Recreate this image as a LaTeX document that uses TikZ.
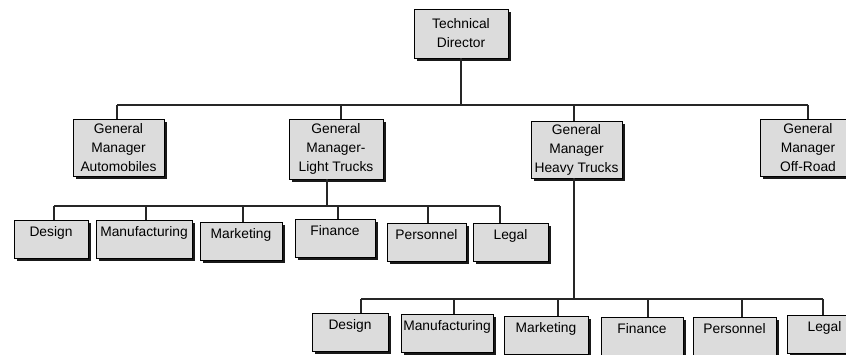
\documentclass[tikz,border=0pt]{standalone}
\usepackage{fontspec}
\setmainfont{Liberation Sans}
\usetikzlibrary{shadows}
\definecolor{boxgray}{HTML}{DCDCDC}
\begin{document}
\begin{tikzpicture}[x=1pt,y=-1pt,
  box/.style={draw=black, line width=0.9pt, fill=boxgray, inner sep=0pt,
    align=center, font=\fontsize{13.8}{19}\selectfont,
    general shadow={fill=black!90, shadow xshift=3pt, shadow yshift=-3pt}},
  gm/.style={box, minimum height=57pt},
  dept/.style={box, anchor=north, text height=16pt, text depth=22pt},
  conn/.style={line width=1.3pt, draw=black!85}]
\useasboundingbox (0,0) rectangle (846,354);
\fill[white] (0,0) rectangle (846,354);

% top level
\node[box, minimum width=94pt, minimum height=49pt] (td) at (461,33.5) {Technical\\Director};

% general managers
\node[gm, minimum width=91pt] (auto) at (118.5,147.5) {General\\Manager\\Automobiles};
\node[gm, minimum width=94pt, minimum height=60pt] (light) at (336,149) {General\\Manager-\\Light Trucks};
\node[gm, minimum width=91pt] (heavy) at (576.5,149.5) {General\\Manager\\Heavy Trucks};
\node[gm, minimum width=96pt] (off) at (808,147.5) {General\\Manager\\Off-Road};

% departments under light trucks
\node[dept, minimum width=74pt] (ld) at (51,220) {Design};
\node[dept, minimum width=96pt] (lm) at (144,220) {Manufacturing};
\node[dept, minimum width=82pt] (lk) at (241,222) {Marketing};
\node[dept, minimum width=80pt] (lf) at (335,219) {Finance};
\node[dept, minimum width=79pt] (lp) at (426.5,223) {Personnel};
\node[dept, minimum width=75pt] (ll) at (510.5,223) {Legal};

% departments under heavy trucks
\node[dept, minimum width=76pt] (hd) at (350,313) {Design};
\node[dept, minimum width=92pt] (hm) at (447,314) {Manufacturing};
\node[dept, minimum width=84pt] (hk) at (546,316) {Marketing};
\node[dept, minimum width=82pt] (hf) at (642,317) {Finance};
\node[dept, minimum width=83pt] (hp) at (734.5,317) {Personnel};
\node[dept, minimum width=75pt] (hl) at (824.5,315) {Legal};

% top bus
\coordinate (t1) at (117,105);
\coordinate (t2) at (341,105);
\coordinate (t3) at (574,105);
\coordinate (t4) at (808,105);
\draw[conn] (td.south) -- (td.south |- t1);
\draw[conn] (t1) -- (t4);
\draw[conn] (t1) -- (auto.north -| t1);
\draw[conn] (t2) -- (light.north -| t2);
\draw[conn] (t3) -- (heavy.north -| t3);
\draw[conn] (t4) -- (off.north -| t4);

% light trucks bus
\coordinate (l0) at (327,206);
\coordinate (l1) at (54,206);
\coordinate (l2) at (146,206);
\coordinate (l3) at (243,206);
\coordinate (l4) at (338,206);
\coordinate (l5) at (428,206);
\coordinate (l6) at (500,206);
\draw[conn] (light.south -| l0) -- (l0);
\draw[conn] (l1) -- (l6);
\draw[conn] (l1) -- (ld.north -| l1);
\draw[conn] (l2) -- (lm.north -| l2);
\draw[conn] (l3) -- (lk.north -| l3);
\draw[conn] (l4) -- (lf.north -| l4);
\draw[conn] (l5) -- (lp.north -| l5);
\draw[conn] (l6) -- (ll.north -| l6);

% heavy trucks bus
\coordinate (h0) at (574,299);
\coordinate (h1) at (361,299);
\coordinate (h2) at (454,299);
\coordinate (h3) at (558,299);
\coordinate (h4) at (648,299);
\coordinate (h5) at (742,299);
\coordinate (h6) at (823,299);
\draw[conn] (heavy.south -| h0) -- (h0);
\draw[conn] (h1) -- (h6);
\draw[conn] (h1) -- (hd.north -| h1);
\draw[conn] (h2) -- (hm.north -| h2);
\draw[conn] (h3) -- (hk.north -| h3);
\draw[conn] (h4) -- (hf.north -| h4);
\draw[conn] (h5) -- (hp.north -| h5);
\draw[conn] (h6) -- (hl.north -| h6);
\end{tikzpicture}
\end{document}
